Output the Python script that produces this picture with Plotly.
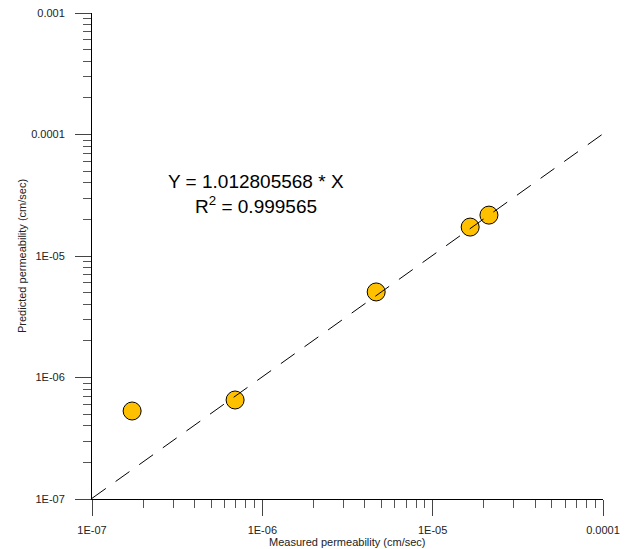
import plotly.graph_objects as go
import numpy as np

measured = [1.72e-7, 6.92e-7, 4.66e-6, 1.66e-5, 2.14e-5]
predicted = [5.3e-7, 6.53e-7, 5.06e-6, 1.73e-5, 2.17e-5]
slope = 1.012805568
fit_x = [1e-7, 1e-4]
fit_y = [slope * v for v in fit_x]

x_tickvals = [1e-7, 1e-6, 1e-5, 1e-4]
x_ticktext = ["1E-07", "1E-06", "1E-05", "0.0001"]
y_tickvals = [1e-7, 1e-6, 1e-5, 1e-4, 1e-3]
y_ticktext = ["1E-07", "1E-06", "1E-05", "0.0001", "0.001"]

fig = go.Figure()
fig.add_trace(go.Scatter(
    x=measured, y=predicted, mode="markers",
    marker=dict(size=18, color="#FFC000", line=dict(color="black", width=1)),
    showlegend=False, cliponaxis=False))
fig.add_trace(go.Scatter(
    x=fit_x, y=fit_y, mode="lines",
    line=dict(color="black", width=1, dash="17px,12px"),
    showlegend=False))

font = "Liberation Sans, Arial, sans-serif"
axis_common = dict(
    type="log", showgrid=False, zeroline=False, showline=True,
    linecolor="black", linewidth=1, ticks="outside", ticklen=16,
    tickcolor="#444", tickwidth=1, tickfont=dict(family=font, size=11, color="#222"),
    mirror=False, automargin=False,
    minor=dict(ticks="outside", ticklen=8, tickcolor="#555", tickwidth=1, dtick="D1", showgrid=False),
)

fig.update_xaxes(range=[-7, -4], tickvals=x_tickvals, ticktext=x_ticktext,
                 ticklabelstandoff=5, **axis_common)
fig.update_yaxes(range=[-7, -3], tickvals=y_tickvals, ticktext=y_ticktext,
                 ticklabelstandoff=8, **axis_common)

fig.add_annotation(x=0.5, y=0, xref="paper", yref="paper", yshift=-43,
                   text="Measured permeability (cm/sec)", showarrow=False,
                   font=dict(family=font, size=11, color="#222"), yanchor="middle")
fig.add_annotation(x=0, y=0.5, xref="paper", yref="paper", xshift=-70,
                   text="Predicted permeability (cm/sec)", showarrow=False, textangle=-90,
                   font=dict(family=font, size=11, color="#222"), xanchor="center")

eq_font = dict(family=font, size=19, color="black")
fig.add_annotation(x=-6.037, y=-4.39, xref="x", yref="y",
                   text="Y = 1.012805568 * X", showarrow=False, font=eq_font)
fig.add_annotation(x=-6.037, y=-4.58, xref="x", yref="y",
                   text="R<sup>2</sup> = 0.999565", showarrow=False, font=eq_font)

fig.update_layout(
    width=628, height=549,
    margin=dict(l=92, r=25, t=13, b=50),
    plot_bgcolor="white", paper_bgcolor="white",
)

fig.write_html("out.html", config={"displayModeBar": False},
               post_script="document.body.style.margin='0';document.body.style.padding='0';document.body.style.overflow='hidden';")
